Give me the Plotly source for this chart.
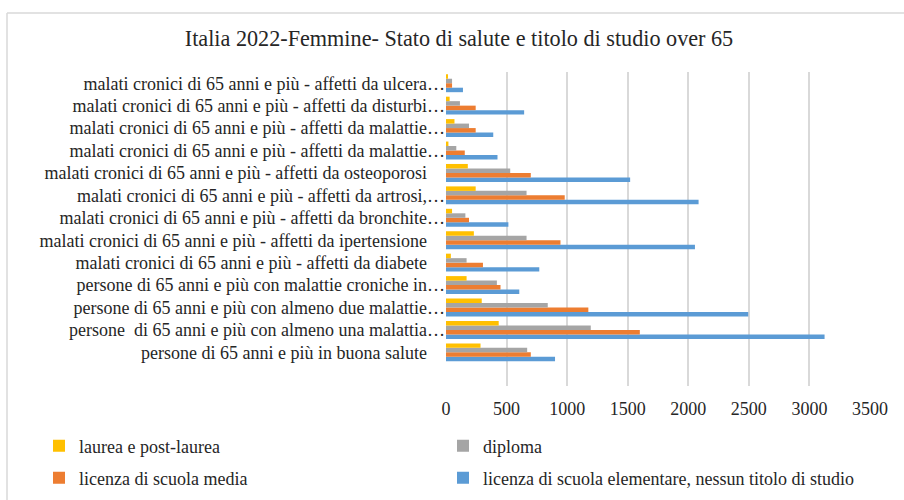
import plotly.graph_objects as go

# Categories, bottom to top as they appear on the category axis
categories = [
    "persone di 65 anni e più in buona salute",
    "persone\u00a0 di 65 anni e più con almeno una malattia…",
    "persone di 65 anni e più con almeno due malattie…",
    "persone di 65 anni e più con malattie croniche in…",
    "malati cronici di 65 anni e più - affetti da diabete",
    "malati cronici di 65 anni e più - affetti da ipertensione",
    "malati cronici di 65 anni e più - affetti da bronchite…",
    "malati cronici di 65 anni e più - affetti da artrosi,…",
    "malati cronici di 65 anni e più - affetti da osteoporosi",
    "malati cronici di 65 anni e più - affetti da malattie…",
    "malati cronici di 65 anni e più - affetti da malattie…",
    "malati cronici di 65 anni e più - affetti da disturbi…",
    "malati cronici di 65 anni e più - affetti da ulcera…",
]

laurea = [285, 435, 295, 170, 40, 230, 50, 245, 180, 20, 70, 30, 15]
diploma = [670, 1195, 840, 420, 170, 665, 160, 665, 530, 85, 190, 115, 50]
media = [700, 1600, 1175, 450, 305, 945, 190, 980, 700, 155, 245, 245, 50]
elementare = [900, 3125, 2495, 605, 770, 2055, 515, 2085, 1520, 425, 390, 645, 140]

series_names = [
    "laurea e post-laurea",
    "diploma",
    "licenza di scuola media",
    "licenza di scuola elementare, nessun titolo di studio",
]

x_ticks = [0, 500, 1000, 1500, 2000, 2500, 3000, 3500]

TITLE = "Italia 2022-Femmine- Stato di salute e titolo di studio over 65"

# Untruncated labels get trailing padding so their text lines up with the
# body of the truncated ones (whose ellipsis hangs to the right).
PAD = "\u00a0" * 4
labels = []
seen = set()
for c in categories:
    lab = c if c.endswith("…") else c + PAD
    while lab in seen:
        lab += "\u200b"
    seen.add(lab)
    labels.append(lab)

FONT = "Liberation Serif, Times New Roman, serif"
TXT = "#262626"

W, H = 904, 500
ML, MR, MT, MB = 446, 34, 72, 114
PW, PH = W - ML - MR, H - MT - MB


def px_x(px):
    return (px - ML) / PW


def px_y(py):
    return 1 - (py - MT) / PH


fig = go.Figure()

# Trace order: first trace sits lowest in each group.
# Each series has its own one-entry legend, laid out as a 2x2 grid.
traces = [
    (series_names[3], elementare, "#5B9BD5", "legend4"),
    (series_names[2], media, "#ED7D31", "legend3"),
    (series_names[1], diploma, "#A5A5A5", "legend2"),
    (series_names[0], laurea, "#FFC000", "legend"),
]
for name, vals, color, leg in traces:
    fig.add_trace(go.Bar(
        y=labels, x=vals, name=name, orientation="h",
        marker=dict(color=color, line=dict(width=0)),
        legend=leg, showlegend=True,
    ))

legend_cells = {
    "legend": (39, 446),
    "legend2": (443, 446),
    "legend3": (39, 478),
    "legend4": (443, 478),
}
legend_layout = {}
for key, (lx, ly) in legend_cells.items():
    legend_layout[key] = dict(
        orientation="h", x=px_x(lx), xanchor="left",
        y=px_y(ly), yanchor="middle",
        font=dict(size=18), bgcolor="rgba(0,0,0,0)",
    )

fig.update_layout(
    width=W, height=H,
    margin=dict(l=ML, r=MR, t=MT, b=MB, autoexpand=False),
    showlegend=True,
    paper_bgcolor="white", plot_bgcolor="white",
    barmode="group", bargap=0.2, bargroupgap=0,
    font=dict(family=FONT, size=18, color=TXT),
    title=dict(text=TITLE, x=459 / W, xref="container", xanchor="center",
               y=1 - 38 / H, yref="container", yanchor="middle",
               font=dict(family=FONT, size=22.2, color=TXT)),
    xaxis=dict(range=[0, 3500], tickvals=x_ticks, showgrid=True,
               gridcolor="#D9D9D9", gridwidth=1.5, zeroline=False,
               showline=False, ticks="", tickfont=dict(size=18),
               ticklabelstandoff=10, automargin=False),
    yaxis=dict(type="category", categoryorder="array", categoryarray=labels,
               tickmode="array", tickvals=labels, ticktext=labels,
               range=[-1.5, len(labels) - 0.5], showgrid=False,
               zeroline=False, showline=False, ticks="",
               tickfont=dict(size=18), ticklabelstandoff=0,
               automargin=False),
    shapes=[
        dict(type="line", xref="paper", yref="paper",
             x0=px_x(7), x1=px_x(W + 2), y0=px_y(13), y1=px_y(13),
             line=dict(color="#D9D9D9", width=1.5)),
        dict(type="line", xref="paper", yref="paper",
             x0=px_x(7), x1=px_x(7), y0=px_y(13), y1=px_y(H + 2),
             line=dict(color="#D9D9D9", width=1.5)),
    ],
    **legend_layout,
)

fig.write_html("out.html")
